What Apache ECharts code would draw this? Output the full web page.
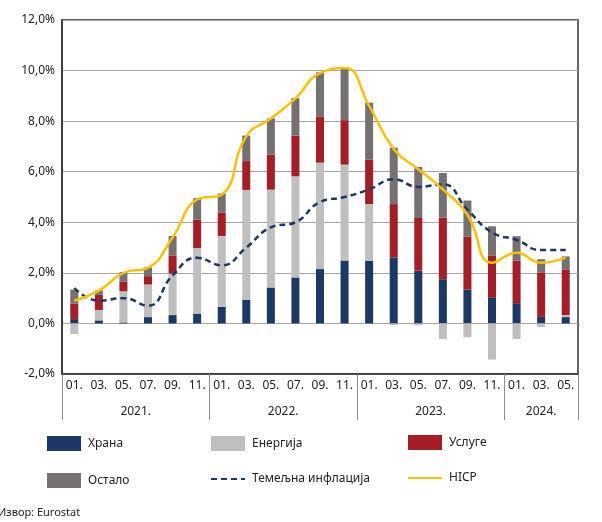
<!DOCTYPE html>
<html>
<head>
<meta charset="utf-8">
<script src="https://cdn.jsdelivr.net/npm/echarts@6/dist/echarts.min.js"></script>
<style>
  html, body { margin: 0; padding: 0; background: #fff; }
  #chart { width: 602px; height: 522px; }
</style>
</head>
<body>
<div id="chart"></div>
<script>
// месеци (сваки други), 2021-01 .. 2024-05
var months = ['01.', '03.', '05.', '07.', '09.', '11.',
              '01.', '03.', '05.', '07.', '09.', '11.',
              '01.', '03.', '05.', '07.', '09.', '11.',
              '01.', '03.', '05.'];
var years = ['2021.', '2022.', '2023.', '2024.'];
var yearCounts = [6, 6, 6, 3];

// доприноси, п.п.
var food     = [0.17, 0.12, 0.04, 0.25, 0.33, 0.39, 0.66, 0.94, 1.42, 1.82, 2.15, 2.49, 2.48, 2.61, 2.09, 1.75, 1.34, 1.01, 0.80, 0.26, 0.25];
var energy   = [-0.42, 0.41, 1.23, 1.29, 1.64, 2.59, 2.80, 4.34, 3.87, 4.00, 4.21, 3.79, 2.24, -0.07, -0.07, -0.62, -0.55, -1.43, -0.62, -0.14, 0.08];
var services = [0.62, 0.60, 0.39, 0.33, 0.72, 1.13, 0.93, 1.14, 1.39, 1.61, 1.80, 1.76, 1.75, 2.11, 2.08, 2.44, 2.10, 1.68, 1.69, 1.76, 1.81];
var other    = [0.55, 0.18, 0.37, 0.34, 0.77, 0.84, 0.75, 1.01, 1.43, 1.48, 1.77, 2.10, 2.26, 2.23, 2.02, 1.76, 1.42, 1.15, 0.96, 0.52, 0.51];
// линије, %
var core = [1.4, 0.9, 1.0, 0.7, 1.9, 2.6, 2.3, 3.0, 3.8, 4.0, 4.8, 5.0, 5.3, 5.7, 5.4, 5.5, 4.5, 3.6, 3.3, 2.9, 2.9];
var hicp = [0.9, 1.3, 2.0, 2.2, 3.4, 4.9, 5.1, 7.4, 8.1, 8.9, 9.9, 10.1, 8.6, 6.9, 6.1, 5.3, 4.3, 2.4, 2.8, 2.4, 2.6];

var FONT = 'Noto Sans';

// границе и средине година на помоћној оси
var yearEdges = [0], yearMids = [], acc = 0;
yearCounts.forEach(function(c) {
    yearMids.push(acc + c / 2);
    acc += c;
    yearEdges.push(acc);
});

var chart = echarts.init(document.getElementById('chart'));

function barSeries(name, data, color) {
    return {
        name: name, type: 'bar', stack: 'total', data: data,
        barWidth: 8,
        itemStyle: { color: color },
        xAxisIndex: 0
    };
}

var legendText = { fontFamily: FONT, fontSize: 12, color: '#222', padding: [4, 0, 0, 2] };
// линије у легенди без симбола
var noSymbol = { opacity: 0 };

var option = {
    animation: false,
    grid: {
        left: 62, right: 24, top: 20, bottom: 148,
        show: true, borderColor: '#333', borderWidth: 1.5
    },
    xAxis: [{
        type: 'category',
        data: months,
        axisLine: { onZero: false, lineStyle: { color: '#333', width: 1.5 } },
        axisTick: { show: false },
        axisLabel: { fontFamily: FONT, fontSize: 12, color: '#222', margin: 6, interval: 0 }
    }, {
        type: 'value',
        min: 0, max: months.length,
        position: 'bottom',
        axisLine: { show: false, onZero: false },
        splitLine: { show: false },
        axisTick: {
            show: true, inside: false, customValues: yearEdges, length: 46,
            lineStyle: { color: '#8c8c8c', width: 1 }
        },
        axisLabel: {
            customValues: yearMids, margin: 32,
            fontFamily: FONT, fontSize: 12, color: '#222',
            formatter: function(v) { return years[yearMids.indexOf(v)]; }
        }
    }],
    yAxis: {
        type: 'value',
        min: -2, max: 12, interval: 2,
        axisLine: { show: true, lineStyle: { color: '#333', width: 1.5 } },
        axisTick: { show: false },
        splitLine: { lineStyle: { color: '#a6a6a6', width: 1.2 } },
        axisLabel: {
            fontFamily: FONT, fontSize: 12, color: '#222', margin: 7,
            formatter: function(v) { return v.toFixed(1).replace('.', ',') + '%'; }
        }
    },
    legend: [{
        left: 47, top: 436, orient: 'vertical', itemGap: 22, padding: 0,
        itemWidth: 34, itemHeight: 15, textStyle: legendText,
        data: [{ name: 'Храна', icon: 'rect' }, { name: 'Остало', icon: 'rect' }]
    }, {
        left: 210, top: 436, orient: 'vertical', itemGap: 22, padding: 0,
        itemWidth: 34, itemHeight: 15, textStyle: legendText,
        data: [{ name: 'Енергија', icon: 'rect' }, { name: 'Темељна инфлација', itemStyle: noSymbol }]
    }, {
        left: 407, top: 435, orient: 'vertical', itemGap: 22, padding: 0,
        itemWidth: 34, itemHeight: 15, textStyle: legendText,
        data: [{ name: 'Услуге', icon: 'rect' }, { name: 'HICP', itemStyle: noSymbol }]
    }],
    graphic: [{
        type: 'text', left: -2, top: 507,
        style: { text: 'Извор: Eurostat', font: '11px "' + FONT + '"', fill: '#222' }
    }],
    series: [
        barSeries('Храна', food, '#1c3864'),
        barSeries('Енергија', energy, '#bfbfbf'),
        barSeries('Услуге', services, '#a51d26'),
        barSeries('Остало', other, '#767171'),
        {
            name: 'Темељна инфлација', type: 'line', data: core,
            smooth: true, symbol: 'none',
            lineStyle: { color: '#1c3864', width: 2.5, type: [6, 4] },
            itemStyle: { color: '#1c3864' }
        },
        {
            name: 'HICP', type: 'line', data: hicp,
            smooth: true, symbol: 'none',
            lineStyle: { color: '#ffc000', width: 2.5 },
            itemStyle: { color: '#ffc000' }
        }
    ]
};

chart.setOption(option);
</script>
</body>
</html>
